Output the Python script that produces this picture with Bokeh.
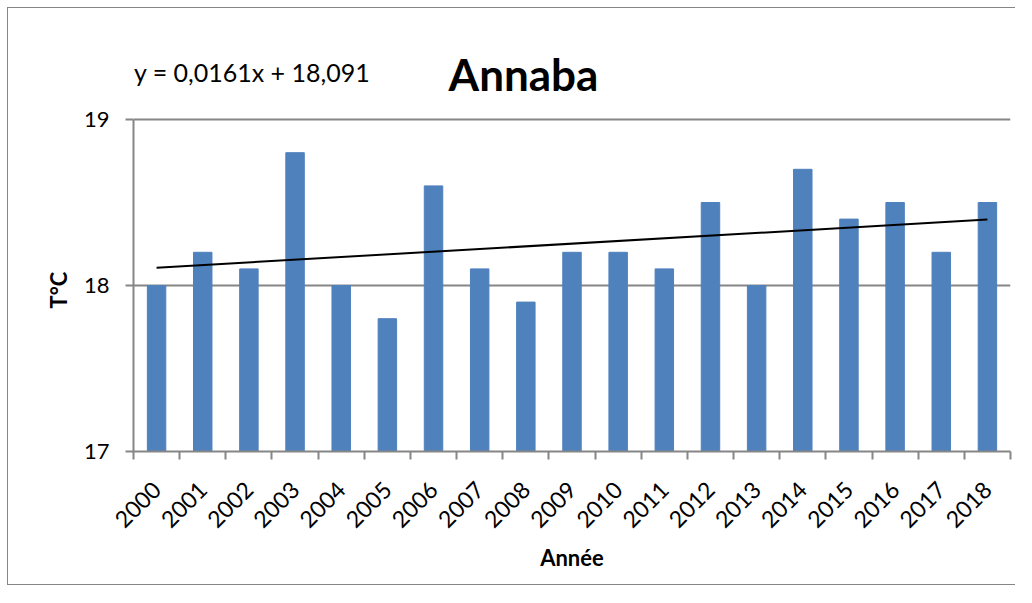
import math
from bokeh.plotting import figure
from bokeh.models import ColumnDataSource, FixedTicker, Range1d, Label, Title
from bokeh.embed import file_html
from bokeh.resources import INLINE

years = ["2000", "2001", "2002", "2003", "2004", "2005", "2006", "2007", "2008", "2009",
         "2010", "2011", "2012", "2013", "2014", "2015", "2016", "2017", "2018"]
temps = [18.0, 18.2, 18.1, 18.8, 18.0, 17.8, 18.6, 18.1, 17.9, 18.2,
         18.2, 18.1, 18.5, 18.0, 18.7, 18.4, 18.5, 18.2, 18.5]
trend_slope = 0.0161
trend_intercept = 18.091
title_text = "Annaba"
equation_text = "y = 0,0161x + 18,091"
y_label = "T°C"
x_label = "Année"
y_ticks = [17, 18, 19]

FONT = "Lato"
GRAY = "#868686"
OFF = 8                                   # chart border offset (7px shift + 1px border)
W, H = 1008, 578
ML, MR, MT, MB = 133 - OFF, 6, 0, 135     # frame extends to top so texts above the plot area are drawn
AXIS_TOP_PX = 119 - OFF                   # pixel row of y = 19 inside the canvas
FW, FH = W - ML - MR, H - MT - MB

xs = list(range(1, len(years) + 1))
src = ColumnDataSource(dict(x=xs, top=temps))

x0, x1 = 0.5, len(years) + 0.5
y0, yv = 17, 19
px_x = FW / (x1 - x0)
px_y = (MT + FH - AXIS_TOP_PX) / (yv - y0)
y1 = yv + (AXIS_TOP_PX - MT) / px_y

p = figure(width=W, height=H, output_backend="svg", toolbar_location=None,
           x_range=Range1d(x0, x1), y_range=Range1d(y0, y1),
           min_border_left=ML, min_border_right=MR, min_border_top=MT,
           min_border_bottom=MB)
p.outline_line_color = None
p.background_fill_color = "white"
p.border_fill_color = "white"
p.styles = {"position": "relative", "left": "7px", "top": "7px",
            "border-left": "1px solid #868686", "border-top": "1px solid #868686",
            "border-bottom": "1px solid #868686"}

p.vbar(x="x", top="top", bottom=y0, width=0.4, source=src,
       fill_color="#4F81BD", line_color="#4F81BD")

tx = [xs[0], xs[-1]]
ty = [trend_slope * v + trend_intercept for v in tx]
p.line(tx, ty, line_color="black", line_width=2)

# x axis
xa = p.xaxis[0]
xa.ticker = FixedTicker(ticks=xs, minor_ticks=[v - 0.5 for v in xs] + [xs[-1] + 0.5])
xa.major_label_overrides = {v: y for v, y in zip(xs, years)}
xa.major_label_orientation = math.pi / 4
xa.major_tick_out = 0
xa.major_tick_in = 0
xa.minor_tick_out = 8
xa.minor_tick_in = 0
xa.minor_tick_line_color = GRAY
xa.axis_line_color = GRAY
xa.axis_line_width = 2
xa.minor_tick_line_width = 2
xa.major_label_text_font = FONT
xa.major_label_text_font_size = "23px"
xa.major_label_text_color = "black"
xa.major_label_standoff = 26
xa.axis_label = x_label
xa.axis_label_text_font = FONT
xa.axis_label_text_font_size = "22px"
xa.axis_label_text_font_style = "bold"
xa.axis_label_text_color = "black"
xa.axis_label_standoff = 6

# y axis
ya = p.yaxis[0]
ya.ticker = FixedTicker(ticks=y_ticks, minor_ticks=[])
ya.bounds = (y0, yv)
ya.major_tick_out = 8
ya.major_tick_in = 0
ya.major_tick_line_color = GRAY
ya.major_tick_line_width = 2
ya.axis_line_color = GRAY
ya.axis_line_width = 2
ya.major_label_text_font = FONT
ya.major_label_text_font_size = "22px"
ya.major_label_text_color = "black"
ya.major_label_standoff = 16

# y axis title, centred on the 17..19 part of the frame
p.add_layout(Title(text=y_label, align="left", offset=143, standoff=17,
                   text_font=FONT, text_font_size="22px", text_font_style="bold",
                   text_color="black"), "left")

p.xgrid.grid_line_color = None
p.ygrid.grid_line_color = GRAY
p.ygrid.grid_line_width = 2
p.ygrid.ticker = FixedTicker(ticks=y_ticks)

# equation of the trend line
p.add_layout(Label(x=x0 + 0.5 / px_x, y=yv + (119 - 71) / px_y,
                   text=equation_text, text_font=FONT, text_font_size="25px",
                   text_color="black", text_baseline="alphabetic", text_align="left"))

# chart title
p.add_layout(Label(x=x0 + (523 - 133) / px_x, y=yv + (119 - 73) / px_y,
                   text=title_text, text_font=FONT, text_font_size="44px",
                   text_font_style="bold", text_color="black",
                   text_baseline="alphabetic", text_align="center"))

open("out.html", "w").write(file_html(p, INLINE))
